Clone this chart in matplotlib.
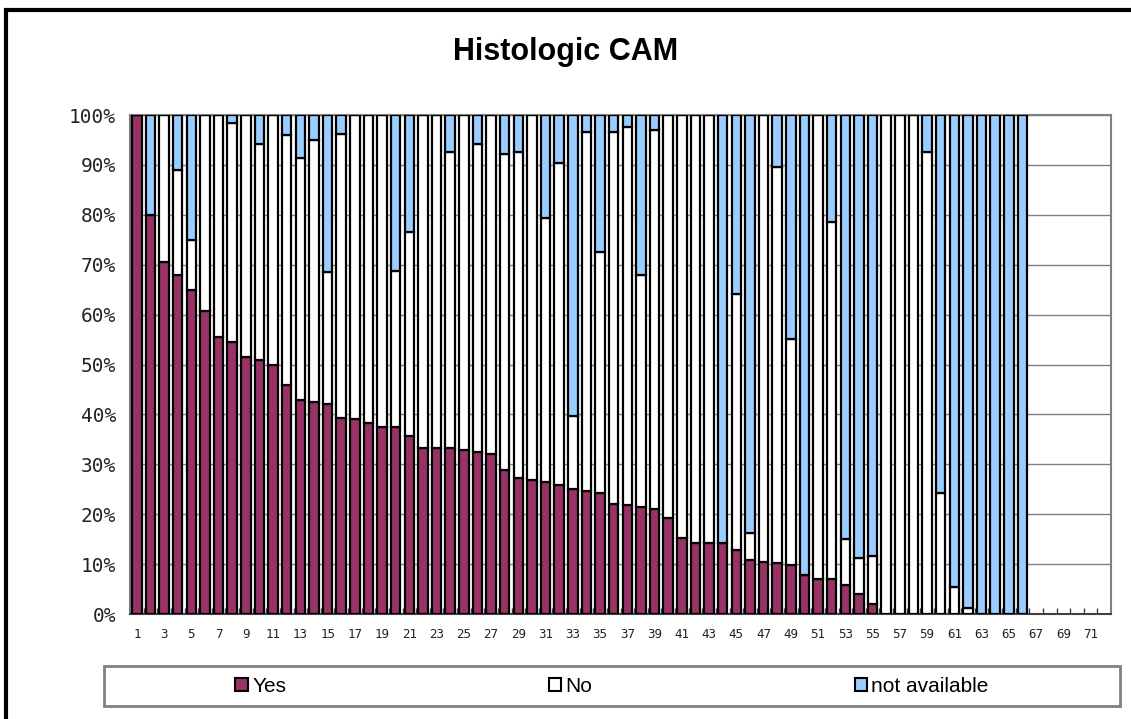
import numpy as np
import matplotlib
matplotlib.use("Agg")
import matplotlib.pyplot as plt
from matplotlib.patches import Rectangle, Patch

# values (percent of each case)
yes = [100, 80.0, 70.6, 68.0, 65.0, 60.7, 55.6, 54.5, 51.5, 51.0,
       50.0, 45.8, 42.9, 42.4, 42.1, 39.3, 39.1, 38.3, 37.5, 37.4,
       35.7, 33.3, 33.3, 33.3, 32.9, 32.4, 32.1, 28.9, 27.2, 26.9,
       26.4, 25.8, 25.0, 24.6, 24.2, 22.1, 21.9, 21.4, 21.1, 19.3,
       15.3, 14.2, 14.2, 14.2, 12.8, 10.8, 10.5, 10.3, 9.9, 7.9,
       7.0, 7.0, 5.9, 4.1, 2.1, 0, 0, 0, 0, 0,
       0, 0, 0, 0, 0, 0]
no = [0, 0, 29.4, 21.0, 10.0, 39.3, 44.4, 43.8, 48.5, 43.2,
      50.0, 50.1, 48.5, 52.6, 26.4, 56.8, 60.9, 61.7, 62.5, 31.4,
      40.9, 66.7, 66.7, 59.3, 67.1, 61.7, 67.9, 63.2, 65.4, 73.1,
      52.9, 64.5, 14.6, 71.9, 48.3, 74.5, 75.7, 46.5, 75.9, 80.7,
      84.7, 85.8, 85.8, 0, 51.3, 5.5, 89.5, 79.3, 45.2, 0,
      93.0, 71.6, 9.2, 7.2, 9.6, 100, 100, 100, 92.6, 24.2,
      5.4, 1.2, 0, 0, 0, 0]
not_available = [0, 20.0, 0, 11.0, 25.0, 0, 0, 1.7, 0, 5.8,
                 0, 4.1, 8.6, 5.0, 31.5, 3.9, 0, 0, 0, 31.2,
                 23.4, 0, 0, 7.4, 0, 5.9, 0, 7.9, 7.4, 0,
                 20.7, 9.7, 60.4, 3.5, 27.5, 3.4, 2.4, 32.1, 3.0, 0,
                 0, 0, 0, 85.8, 35.9, 83.7, 0, 10.4, 44.9, 92.1,
                 0, 21.4, 84.9, 88.7, 88.3, 0, 0, 0, 7.4, 75.8,
                 94.6, 98.8, 100, 100, 100, 100]
n_categories = 72

c_yes = "#993366"
c_no = "#ffffff"
c_na = "#99ccff"

W, H = 1131, 719
fig = plt.figure(figsize=(W / 100, H / 100), dpi=100)

# outer chart border (only left and top edges are inside the picture)
fig.patches.append(Rectangle((6 / W, -0.1), 1.2, (H - 10) / H + 0.1,
                             transform=fig.transFigure, fill=False,
                             edgecolor="black", linewidth=3))

ax = fig.add_axes([130 / W, 1 - 614 / H, 981 / W, (614 - 115) / H])

x = np.arange(1, len(yes) + 1)
yes = np.array(yes)
no = np.array(no)
not_available = np.array(not_available)
bw = 0.7
ax.bar(x, yes, bw, color=c_yes, edgecolor="black", linewidth=1.6, zorder=3)
ax.bar(x, no, bw, bottom=yes, color=c_no, edgecolor="black", linewidth=1.6, zorder=3)
ax.bar(x, not_available, bw, bottom=yes + no, color=c_na, edgecolor="black",
       linewidth=1.6, zorder=3)

ax.set_xlim(0.5, n_categories + 0.5)
ax.set_ylim(0, 100)
ax.set_yticks(np.arange(0, 101, 10))
ax.set_yticklabels([f"{v}%" for v in range(0, 101, 10)],
                   fontfamily="DejaVu Sans Mono", fontsize=14, color="#222222")
ax.set_xticks(np.arange(1, n_categories + 1, 2))
ax.set_xticklabels([str(v) for v in range(1, n_categories + 1, 2)],
                   fontfamily="DejaVu Sans Mono", fontsize=9, color="#222222")
ax.set_xticks(np.arange(1.5, n_categories, 1), minor=True)
ax.tick_params(axis="x", which="major", length=0, pad=10)
ax.tick_params(axis="x", which="minor", direction="in", length=4,
               color="#404040", width=1)
ax.tick_params(axis="y", length=0, pad=10)

ax.grid(axis="y", color="#808080", linewidth=1, zorder=0)
for s in ax.spines.values():
    s.set_color("#808080")
    s.set_linewidth(1.5)
ax.spines["bottom"].set_color("#404040")

fig.text(0.5, 1 - 52 / H, "Histologic CAM", ha="center", va="center",
         fontfamily="Liberation Sans", fontweight="bold", fontsize=22)

# legend box
fig.patches.append(Rectangle((104 / W, 1 - 706 / H), (1120 - 104) / W, 40 / H,
                             transform=fig.transFigure, fill=False,
                             edgecolor="#808080", linewidth=2))
handles = [Patch(facecolor=c_yes, edgecolor="black", linewidth=1.5, label="Yes"),
           Patch(facecolor=c_no, edgecolor="black", linewidth=1.5, label="No"),
           Patch(facecolor=c_na, edgecolor="black", linewidth=1.5, label="not available")]
fig.legend(handles=handles, loc="center", bbox_to_anchor=(612 / W, 1 - 686 / H),
           ncol=3, frameon=False, prop={"family": "Liberation Sans", "size": 15},
           handlelength=0.6, handleheight=0.6, handletextpad=0.2,
           columnspacing=12.6, borderpad=0)

fig.savefig("out.png", dpi=100)
